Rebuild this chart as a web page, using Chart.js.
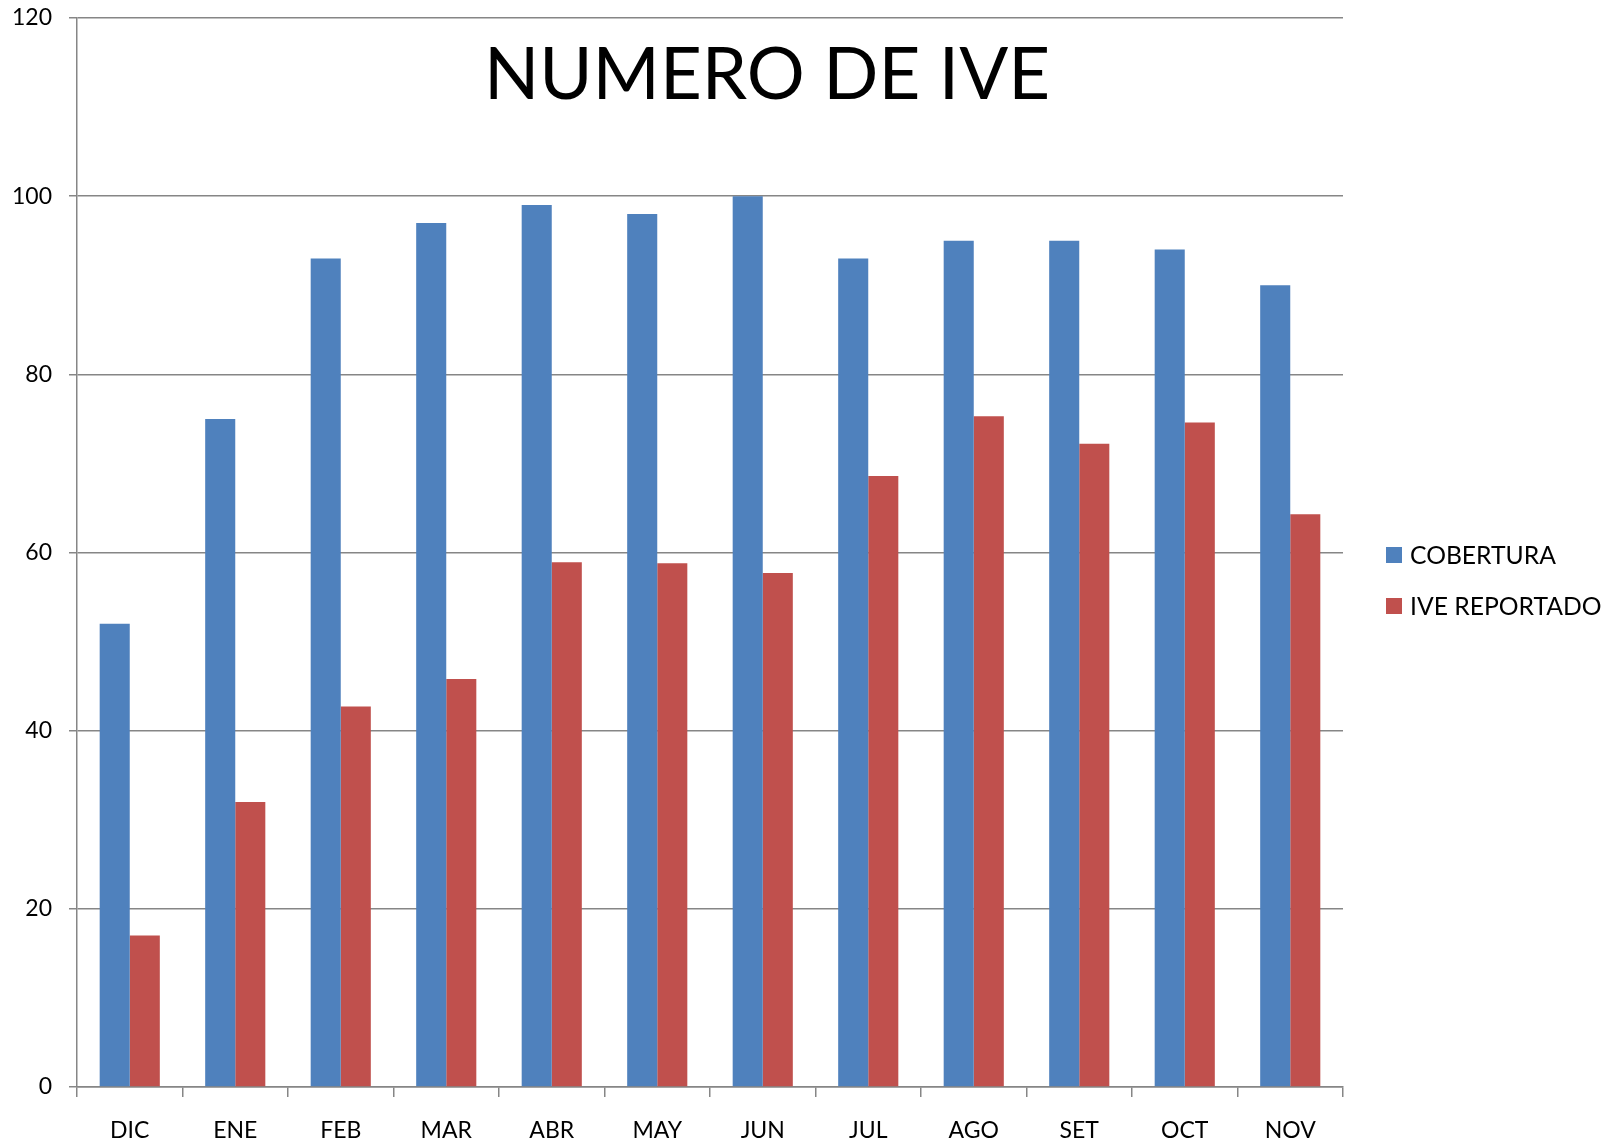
<!DOCTYPE html>
<html>
<head>
<meta charset="utf-8">
<script src="https://cdn.jsdelivr.net/npm/chart.js@4"></script>
<style>
html,body{margin:0;padding:0;background:#fff;}
#wrap{position:relative;width:1618px;height:1142px;}
</style>
</head>
<body>
<div id="wrap"><canvas id="c" width="1618" height="1142"></canvas></div>
<script>
const categories = ["DIC","ENE","FEB","MAR","ABR","MAY","JUN","JUL","AGO","SET","OCT","NOV"];
const cobertura = [52,75,93,97,99,98,100,93,95,95,94,90];
const iveReportado = [17,32,42.7,45.8,58.9,58.8,57.7,68.6,75.3,72.2,74.6,64.3];
const seriesNames = ["COBERTURA","IVE REPORTADO"];
const chartTitle = "NUMERO DE IVE";
const yTicks = [0,20,40,60,80,100,120];

const FONT = "Lato, 'Open Sans', sans-serif";
const GRID = "#868686";

const overlay = {
  id: "overlay",
  afterDraw(chart) {
    const ctx = chart.ctx;
    ctx.save();
    // title
    ctx.fillStyle = "#000";
    ctx.font = "72.5px " + FONT;
    ctx.textAlign = "center";
    ctx.textBaseline = "middle";
    ctx.fillText(chartTitle, 767, 76);
    // legend
    ctx.font = "24.7px " + FONT;
    ctx.textAlign = "left";
    chart.data.datasets.forEach((ds, i) => {
      const y = 555 + i * 51;
      ctx.fillStyle = ds.backgroundColor;
      ctx.fillRect(1386, y - 8, 16, 16);
      ctx.fillStyle = "#000";
      ctx.fillText(ds.label, 1410, y + 1);
    });
    ctx.restore();
  }
};

new Chart(document.getElementById("c"), {
  type: "bar",
  data: {
    labels: categories,
    datasets: [
      { label: seriesNames[0], data: cobertura, backgroundColor: "#4F81BD" },
      { label: seriesNames[1], data: iveReportado, backgroundColor: "#C0504D" }
    ]
  },
  options: {
    responsive: false,
    animation: false,
    layout: { padding: { top: 18, right: 275, left: 0, bottom: 0 } },
    datasets: { bar: { categoryPercentage: 0.57, barPercentage: 1.0 } },
    plugins: { legend: { display: false }, title: { display: false }, tooltip: { enabled: false } },
    scales: {
      x: {
        afterFit(s) { s.height = 55; s.paddingLeft = 0; s.paddingRight = 0; },
        grid: { drawOnChartArea: false, drawTicks: true, tickLength: 10, color: GRID, lineWidth: 1.5, offset: true },
        border: { color: GRID, width: 1.5 },
        ticks: { color: "#000", font: { family: FONT, size: 23 }, padding: 20, maxRotation: 0 }
      },
      y: {
        min: 0, max: 120,
        afterFit(s) { s.width = 77; s.paddingTop = 0; s.paddingBottom = 0; },
        afterBuildTicks(s) { s.ticks = yTicks.map(v => ({ value: v })); },
        grid: { color: GRID, lineWidth: 1.5, tickLength: 8 },
        border: { color: GRID, width: 1.5 },
        ticks: { color: "#000", font: { family: FONT, size: 23 }, padding: 17 }
      }
    }
  },
  plugins: [overlay]
});
</script>
</body>
</html>
